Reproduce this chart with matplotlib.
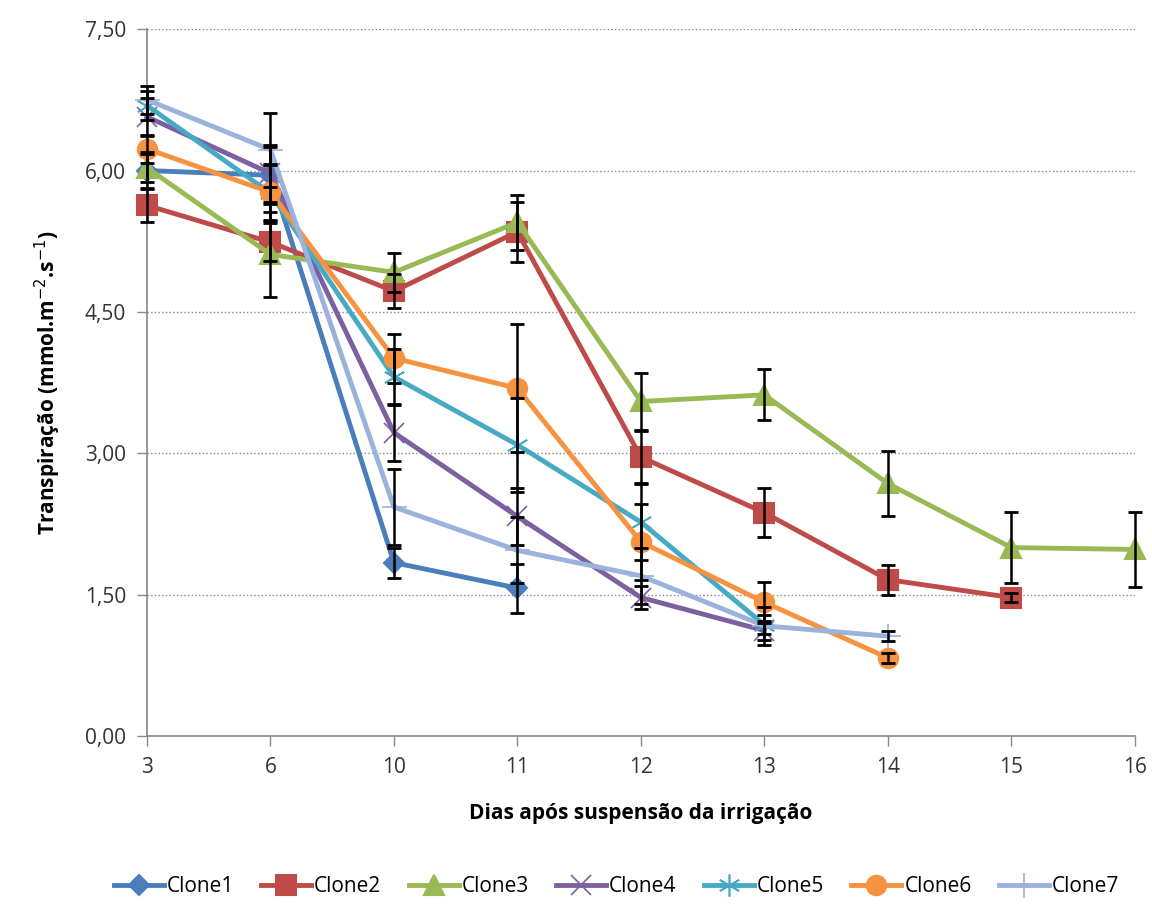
import numpy as np
import matplotlib
matplotlib.use("Agg")
import matplotlib.pyplot as plt

plt.rcParams['font.family'] = ['Open Sans', 'DejaVu Sans']

days = ["3", "6", "10", "11", "12", "13", "14", "15", "16"]
nan = np.nan

clone1 = [6.00, 5.95, 1.84, 1.57, nan, nan, nan, nan, nan]
clone2 = [5.63, 5.24, 4.72, 5.35, 2.96, 2.37, 1.66, 1.47, nan]
clone3 = [6.03, 5.11, 4.92, 5.45, 3.55, 3.62, 2.68, 2.00, 1.98]
clone4 = [6.57, 5.97, 3.22, 2.33, 1.47, 1.12, nan, nan, nan]
clone5 = [6.69, 5.76, 3.81, 3.09, 2.27, 1.18, nan, nan, nan]
clone6 = [6.23, 5.77, 4.01, 3.69, 2.06, 1.42, 0.83, nan, nan]
clone7 = [6.75, 6.22, 2.43, 1.97, 1.70, 1.17, 1.06, nan, nan]

err1 = [0.20, 0.30, 0.16, 0.26, nan, nan, nan, nan, nan]
err2 = [0.18, 0.20, 0.18, 0.32, 0.28, 0.26, 0.16, 0.05, nan]
err3 = [0.15, 0.45, 0.21, 0.29, 0.30, 0.27, 0.34, 0.38, 0.40]
err4 = [0.20, 0.30, 0.30, 0.30, 0.12, 0.10, nan, nan, nan]
err5 = [0.15, 0.30, 0.30, 0.50, 0.40, 0.10, nan, nan, nan]
err6 = [0.15, 0.30, 0.26, 0.68, 0.40, 0.22, 0.05, nan, nan]
err7 = [0.15, 0.39, 0.40, 0.35, 0.30, 0.20, 0.05, nan, nan]

names = ["Clone1", "Clone2", "Clone3", "Clone4", "Clone5", "Clone6", "Clone7"]
series = [clone1, clone2, clone3, clone4, clone5, clone6, clone7]
errors = [err1, err2, err3, err4, err5, err6, err7]
colors = ["#4A7EBB", "#BE4B48", "#98B954", "#7D60A0", "#46AAC5", "#F69240", "#9AB2DC"]
asterisk = (6, 2, 0)
markers = ["D", "s", "^", "x", asterisk, "o", "+"]
msizes = [10, 14, 14, 14, 16, 14, 18]

fig = plt.figure(figsize=(11.52, 9.11), dpi=100)
ax = fig.add_axes([0.1276, 0.192, 0.8574, 0.776])

x = np.arange(len(days))
for name, y, e, c, m, ms in zip(names, series, errors, colors, markers, msizes):
    y = np.array(y, dtype=float)
    e = np.array(e, dtype=float)
    eb = ax.errorbar(x, y, yerr=e, fmt='none', ecolor='black', elinewidth=1.8,
                     capsize=5, capthick=2, zorder=4)
    for art in eb.get_children():
        art.set_clip_on(False)
    ax.plot(x, y, color=c, lw=3.5, marker=m, markersize=ms,
            markeredgecolor=c, markerfacecolor=c,
            markeredgewidth=1.5 if m not in ("x", "+", asterisk) else 1.2,
            label=name, zorder=3, clip_on=False)

ax.set_xlim(0, len(days) - 1)
ax.set_ylim(0, 7.5)
ax.set_xticks(x)
ax.set_xticklabels(days)
yt = [0, 1.5, 3.0, 4.5, 6.0, 7.5]
ax.set_yticks(yt)
ax.set_yticklabels([f"{v:.2f}".replace(".", ",") for v in yt])
ax.tick_params(axis='both', labelsize=15, colors='#333333', length=7, width=1,
               direction='out', color='#888888')
ax.tick_params(axis='x', pad=8)
ax.tick_params(axis='y', pad=8)
ax.grid(axis='y', linestyle=':', color='#888888', lw=1)
ax.set_axisbelow(True)
for s in ['top', 'right']:
    ax.spines[s].set_visible(False)
for s in ['left', 'bottom']:
    ax.spines[s].set_color('#888888')
    ax.spines[s].set_linewidth(1.2)

ax.set_xlabel("Dias após suspensão da irrigação", fontsize=15, fontweight='bold', labelpad=18)
ax.set_ylabel("Transpiração (mmol.m$^{-2}$.s$^{-1}$)", fontsize=15, fontweight='bold', labelpad=16)

fig.legend(loc='lower center', ncol=7, frameon=False, fontsize=15,
           bbox_to_anchor=(0.535, -0.005), handlelength=2.4, columnspacing=1.3, handletextpad=0.15)

fig.savefig("out.png", dpi=100)
